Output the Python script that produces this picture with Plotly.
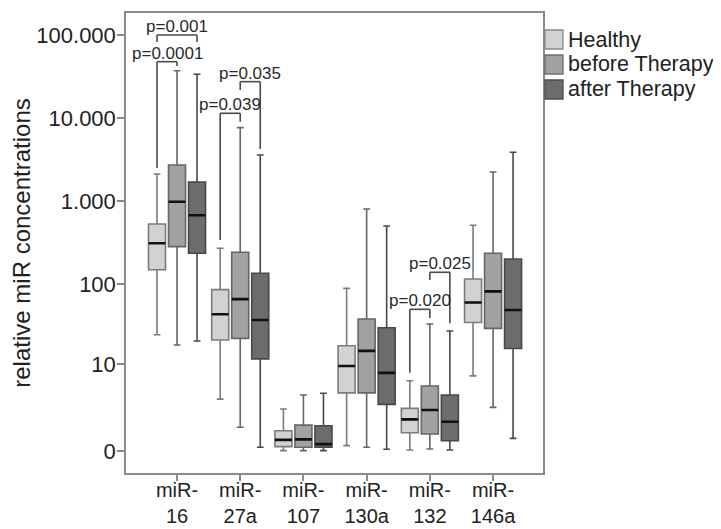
import numpy as np
import plotly.graph_objects as go

FONT = "Liberation Sans, Arial, sans-serif"

categories = ["miR-16", "miR-27a", "miR-107", "miR-130a", "miR-132", "miR-146a"]
tick_labels = ["miR-<br>16", "miR-<br>27a", "miR-<br>107", "miR-<br>130a", "miR-<br>132", "miR-<br>146a"]
group_names = ["Healthy", "before Therapy", "after Therapy"]

healthy_low = [24, 3.2, 0.01, 0.16, 0.03, 7.0]
healthy_q1 = [150, 20.6, 0.13, 4.0, 0.66, 34]
healthy_med = [313, 43, 0.36, 9.5, 1.40, 60]
healthy_q3 = [535, 86, 0.75, 17.4, 2.26, 116]
healthy_high = [2130, 273, 2.2, 89, 6.0, 516]

before_low = [17.8, 0.93, 0.01, 0.11, 0.06, 2.35]
before_q1 = [285, 21.6, 0.11, 4.0, 0.6, 28.8]
before_med = [990, 66, 0.38, 15, 2.11, 82]
before_q3 = [2740, 244, 1.05, 37.6, 5.04, 237]
before_high = [37200, 7690, 3.71, 810, 32.6, 2255]

after_low = [20, 0.11, 0.01, 0.05, 0.03, 0.42]
after_q1 = [237, 11.8, 0.11, 2.64, 0.33, 16.1]
after_med = [680, 36.5, 0.21, 7.7, 1.25, 48.5]
after_q3 = [1710, 136, 1.01, 29.3, 3.71, 202]
after_high = [33700, 3610, 3.94, 506, 26.7, 3890]

y_tick_values = [0, 10, 100, 1000, 10000, 100000]
y_tick_labels = ["0", "10", "100", "1.000", "10.000", "100.000"]

# significance brackets: (category index, group a, group b, bar level, leg end a, leg end b, label)
brackets = [
    (0, 0, 2, 100000, 82400, 82400, "p=0.001"),
    (0, 0, 1, 47750, 2520, 42400, "p=0.0001"),
    (1, 1, 2, 27470, 21800, 4265, "p=0.035"),
    (1, 0, 1, 11450, 343, 9080, "p=0.039"),
    (4, 1, 2, 139.6, 112.6, 33.3, "p=0.025"),
    (4, 0, 1, 49.5, 7.7, 38.7, "p=0.020"),
]

fills = ["#d2d2d2", "#a2a2a2", "#6c6c6c"]
lines = ["#7c7c7c", "#666666", "#484848"]
legend_edges = ["#8a8a8a", "#6e6e6e", "#4e4e4e"]

stats = [
    (healthy_low, healthy_q1, healthy_med, healthy_q3, healthy_high),
    (before_low, before_q1, before_med, before_q3, before_high),
    (after_low, after_q1, after_med, after_q3, after_high),
]

def sh(v):
    # SPSS-style log scale of (value + 1)
    return list(np.array(v, dtype=float) + 1.0)

fig = go.Figure()
for g, (lo, q1, md, q3, hi) in enumerate(stats):
    fig.add_trace(go.Box(
        x=categories, lowerfence=sh(lo), q1=sh(q1), median=sh(md), q3=sh(q3), upperfence=sh(hi),
        name=group_names[g], fillcolor=fills[g], line=dict(color=lines[g], width=1.6),
        whiskerwidth=0.4, offsetgroup=str(g), alignmentgroup="a", showlegend=False,
        hoverinfo="skip",
    ))
    # black median line overlay
    fig.add_trace(go.Box(
        x=categories, lowerfence=sh(md), q1=sh(md), median=sh(md), q3=sh(md), upperfence=sh(md),
        name=group_names[g] + " median", fillcolor="rgba(0,0,0,0)", line=dict(color="#111111", width=2.6),
        whiskerwidth=0, offsetgroup=str(g), alignmentgroup="a", showlegend=False,
        hoverinfo="skip",
    ))

BOXGAP = 0.05
slot = (1 - BOXGAP) / 3
shapes = []
annotations = []
for (ci, ga, gb, lvl, la, lb, txt) in brackets:
    xa = ci + (ga - 1) * slot
    xb = ci + (gb - 1) * slot
    lc = dict(color="#4a4a4a", width=1.6)
    shapes.append(dict(type="line", xref="x", yref="y", x0=xa, x1=xb, y0=lvl + 1, y1=lvl + 1, line=lc))
    shapes.append(dict(type="line", xref="x", yref="y", x0=xa, x1=xa, y0=lvl + 1, y1=la + 1, line=lc))
    shapes.append(dict(type="line", xref="x", yref="y", x0=xb, x1=xb, y0=lvl + 1, y1=lb + 1, line=lc))
    annotations.append(dict(
        x=(xa + xb) / 2, y=np.log10(lvl + 1), xref="x", yref="y", text=txt, showarrow=False,
        yanchor="bottom", yshift=-3, font=dict(family=FONT, size=17, color="#2a2a2a"),
    ))

# legend (swatch + label) placed right of the plot frame, in paper units
PW, PH = 417.0, 460.0           # plot area size in px
for g in range(3):
    cy = 1 - (26.5 + 25 * g) / PH   # row centre
    shapes.append(dict(type="rect", xref="paper", yref="paper",
                       x0=1 + 2 / PW, x1=1 + 20 / PW, y0=cy - 9.5 / PH, y1=cy + 9.5 / PH,
                       fillcolor=fills[g], line=dict(color=legend_edges[g], width=1.3)))
    annotations.append(dict(x=1 + 23 / PW, y=cy, xref="paper", yref="paper", text=group_names[g],
                            showarrow=False, xanchor="left", yanchor="middle",
                            font=dict(family=FONT, size=21.5, color="#222222")))

# the page body adds an 8px offset, so the figure is drawn 8px smaller with shifted margins
fig.update_layout(
    width=713, height=521,
    margin=dict(l=118, r=178, t=5, b=56),
    paper_bgcolor="white", plot_bgcolor="white",
    boxmode="group", boxgap=BOXGAP, boxgroupgap=0.15,
    font=dict(family=FONT, color="#222222"),
    shapes=shapes, annotations=annotations,
    showlegend=False,
)
fig.update_xaxes(
    type="category", categoryorder="array", categoryarray=categories,
    tickvals=categories, ticktext=tick_labels, range=[-0.807, 5.79],
    showline=True, mirror=True, linecolor="#8a8a8a", linewidth=1.5,
    ticks="outside", ticklen=6, tickcolor="#8a8a8a", tickwidth=1.5,
    tickfont=dict(size=20, color="#222222"), showgrid=False, zeroline=False,
    automargin=False, ticklabelstandoff=-8,
)
fig.update_yaxes(
    type="log", range=[-0.264, 5.264],
    tickvals=sh(y_tick_values), ticktext=y_tick_labels,
    showline=True, mirror=True, linecolor="#8a8a8a", linewidth=1.5,
    ticks="outside", ticklen=7, tickcolor="#8a8a8a", tickwidth=1.5,
    tickfont=dict(size=22, color="#222222"), showgrid=False, zeroline=False,
    automargin=False, ticklabelstandoff=-3,
    title=dict(text="relative miR concentrations", font=dict(size=24, color="#222222"), standoff=5),
)

fig.write_html("out.html")
